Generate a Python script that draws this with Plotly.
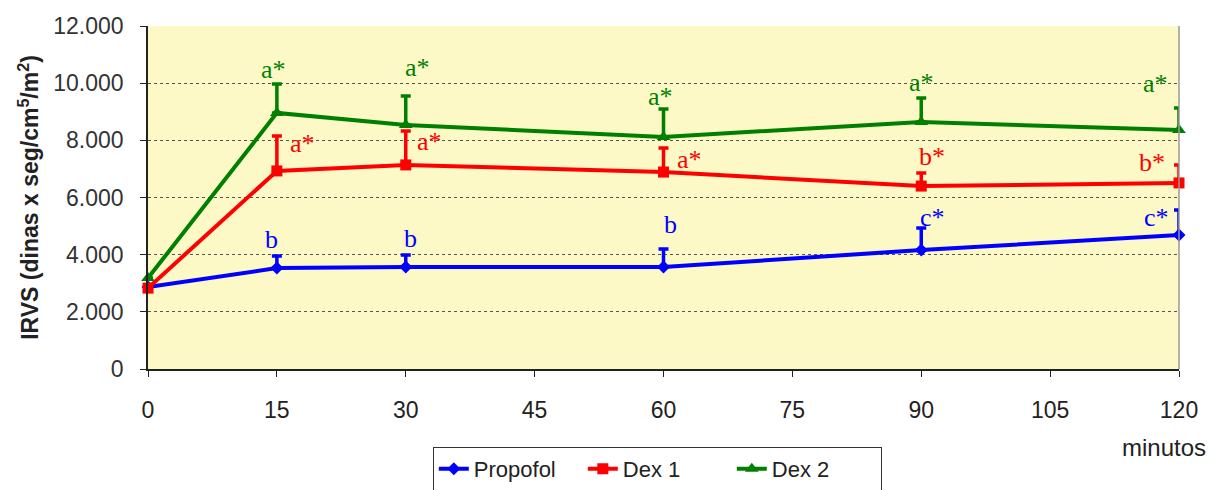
import plotly.graph_objects as go

# Time points (minutes)
minutos = [0, 15, 30, 60, 90, 120]

# Mean IRVS per group and upper error (mean + SD)
propofol = [2870, 3530, 3570, 3570, 4160, 4690]
propofol_sup = [None, 3950, 3990, 4200, 4930, 5560]
dex1 = [2830, 6930, 7140, 6890, 6400, 6510]
dex1_sup = [None, 8150, 8330, 7730, 6860, 7140]
dex2 = [3180, 8960, 8540, 8120, 8640, 8360]
dex2_sup = [None, 9970, 9550, 9100, 9480, 9130]

# Significance letters per group
prop_letras = ["", "b", "b", "b", "c*", "c*"]
dex1_letras = ["", "a*", "a*", "a*", "b*", "b*"]
dex2_letras = ["", "a*", "a*", "a*", "a*", "a*"]

y_ticks = [0, 2000, 4000, 6000, 8000, 10000, 12000]
y_ticktext = ["0", "2.000", "4.000", "6.000", "8.000", "10.000", "12.000"]
x_ticks = [0, 15, 30, 45, 60, 75, 90, 105, 120]

series = [
    ("Propofol", propofol, propofol_sup, prop_letras, "#0000FF", "diamond", 10,
     [(-5, 17), (5, 16), (7, 24), (11, 11), (-23, -7)]),
    ("Dex 1", dex1, dex1_sup, dex1_letras, "#FF0000", "square", 11,
     [(26, -7), (24, -11), (26, -11), (11, 16), (-27, 2)]),
    ("Dex 2", dex2, dex2_sup, dex2_letras, "#008000", "triangle-up", 12,
     [(-3, 15), (12, 29), (-3, 12), (0, 16), (-24, 25)]),
]

fig = go.Figure()
annotations = []
for nombre, media, sup, letras, color, simbolo, tam, desp in series:
    err = [0 if s is None else s - m for s, m in zip(sup, media)]
    fig.add_trace(go.Scatter(
        x=minutos, y=media, name=nombre, mode="lines+markers",
        line=dict(color=color, width=4),
        marker=dict(symbol=simbolo, size=tam, color=color),
        error_y=dict(type="data", array=err, arrayminus=[0] * len(err),
                     symmetric=False, color=color, thickness=3.5, width=5),
        cliponaxis=False,
    ))
    for i in range(1, len(minutos)):
        dx, dy = desp[i - 1]
        annotations.append(dict(
            x=minutos[i], y=sup[i], xref="x", yref="y", text=letras[i],
            showarrow=False, xshift=dx, yshift=dy,
            xanchor="center", yanchor="middle",
            font=dict(family="Liberation Serif, Times New Roman, serif",
                      size=26, color=color),
        ))

annotations.append(dict(
    x=1.028, y=-0.23, xref="paper", yref="paper", text="minutos",
    showarrow=False, xanchor="right", yanchor="middle",
    font=dict(family="Liberation Sans, Arial", size=24, color="#222"),
))

fig.update_layout(
    width=1208, height=490,
    margin=dict(l=148, r=29, t=26, b=121, autoexpand=False),
    paper_bgcolor="white",
    plot_bgcolor="#FCF9C6",
    showlegend=True,
    legend=dict(orientation="h", x=0.494, xanchor="center", y=-0.227, yanchor="top",
                bordercolor="#333", borderwidth=1, bgcolor="white",
                font=dict(family="Liberation Sans, Arial", size=22, color="#222"),
                tracegroupgap=0, entrywidth=104),
    annotations=annotations,
    shapes=[dict(type="line", xref="paper", yref="paper", x0=1, x1=1, y0=0, y1=1,
                 line=dict(color="#999", width=1.5))],
)

fig.update_xaxes(
    range=[0, 120], tickvals=x_ticks, showgrid=False, zeroline=False,
    showline=True, linecolor="#222", linewidth=1.5, automargin=False,
    ticks="outside", ticklen=6, tickcolor="#222", ticklabelstandoff=14,
    tickfont=dict(family="Liberation Sans, Arial", size=23, color="#222"),
)
fig.update_yaxes(
    range=[0, 12000], tickvals=y_ticks, ticktext=y_ticktext,
    showgrid=True, gridcolor="#555", griddash="dot", gridwidth=1,
    zeroline=False, showline=True, linecolor="#222", linewidth=1.5, automargin=False,
    ticks="outside", ticklen=6, tickcolor="#222", ticklabelstandoff=12,
    tickfont=dict(family="Liberation Sans, Arial", size=23, color="#333"),
    title=dict(text="<b>IRVS (dinas x seg/cm<sup>5</sup>/m<sup>2</sup>)</b>",
               font=dict(family="Liberation Sans, Arial", size=23, color="#222"),
               standoff=8),
)

fig.write_html("out.html")
